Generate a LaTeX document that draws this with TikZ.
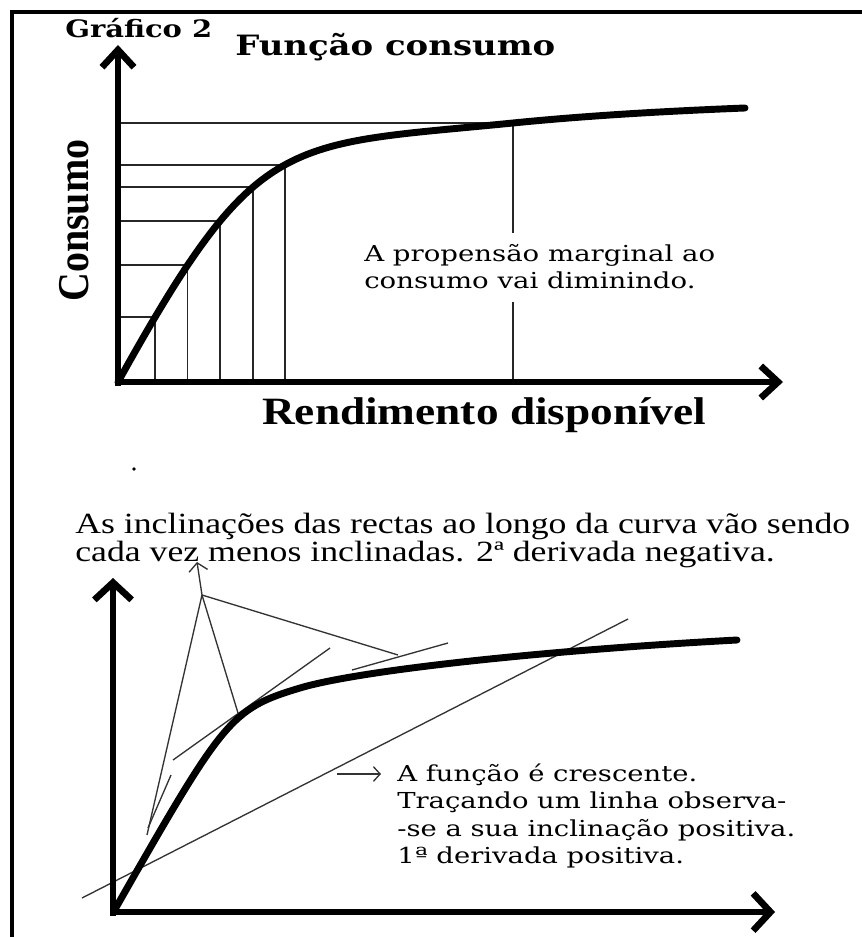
\documentclass[tikz,border=0pt]{standalone}
\usepackage{fontspec}
\usepackage{graphicx}
\setmainfont{Liberation Serif}
\newfontfamily\bookfont{DejaVu Serif}
\usetikzlibrary{arrows.meta}
\newsavebox\measbox
\newdimen\measdim
\newcommand\setxscale[3]{\sbox\measbox{#3}\measdim=\wd\measbox\pgfmathsetmacro#1{#2*0.75/\measdim}}
\newcommand\grafont{\bookfont\bfseries\fontsize{18}{18}\selectfont}
\newcommand\funcfont{\bookfont\bfseries\fontsize{21}{21}\selectfont}
\newcommand\consfont{\bfseries\fontsize{33}{33}\selectfont}
\newcommand\rendfont{\bfseries\fontsize{29}{29}\selectfont}
\newcommand\propfont{\bookfont\fontsize{16.5}{16.5}\selectfont}
\newcommand\inclfont{\fontsize{22}{22}\selectfont}
\newcommand\crescfont{\bookfont\fontsize{16.5}{16.5}\selectfont}
\begin{document}
\setxscale\sG{147}{\grafont Gráfico 2}%
\setxscale\sF{320}{\funcfont Função consumo}%
\setxscale\sC{162}{\consfont Consumo}%
\setxscale\sR{444}{\rendfont Rendimento disponível}%
\setxscale\sP{351}{\propfont A propensão marginal ao}%
\setxscale\sI{775}{\inclfont As inclinações das rectas ao longo da curva vão sendo}%
\setxscale\sK{398}{\crescfont -se a sua inclinação positiva.}%
\begin{tikzpicture}[x=0.75pt,y=-0.75pt,
  frameline/.style={line width=3.5pt},
  axistop/.style={line width=5pt, -{Straight Barb[length=13pt,width=24pt]}},
  axisbot/.style={line width=5pt, -{Straight Barb[length=13pt,width=28pt]}},
  ccurve/.style={line width=5.2pt, line cap=round, line join=round},
  gridline/.style={line width=1.3pt, black!85},
  tline/.style={line width=1pt, black!80},
  txt/.style={inner sep=0pt, anchor=base west}]
\useasboundingbox[fill=white] (0,0) rectangle (862,937);
% frame
\draw[frameline] (10,12) -- (862,12);
\draw[frameline] (12,10) -- (12,937);
% ---------- top graph ----------
\coordinate (O1) at (118,382);
\coordinate (Y1) at (118,45);
\coordinate (X1) at (783,382);
\coordinate (E1) at (745,108);
\path (O1) .. controls (258,130) and (283,146) .. (513,123)
  coordinate[pos=0.095] (p1) coordinate[pos=0.19] (p2) coordinate[pos=0.295] (p3)
  coordinate[pos=0.405] (p4) coordinate[pos=0.51] (p5) coordinate[pos=1] (p6);
\foreach \p in {p1,p2,p3,p4,p5}{
  \draw[gridline] (O1 |- \p) -- (\p);
  \draw[gridline] (\p) -- (\p |- O1);
}
\draw[gridline] (O1 |- p6) -- (p6);
\coordinate (g1) at (513,233);
\coordinate (g2) at (513,302);
\draw[gridline] (p6) -- (g1);
\draw[gridline] (g2) -- (p6 |- O1);
\draw[ccurve] (O1) .. controls (258,130) and (283,146) .. (p6)
  .. controls (590,115.3) and (670,111) .. (E1);
\draw[axistop] (118,386) -- (Y1);
\draw[axistop] (115,382) -- (X1);
% texts top
\node[txt] (graf) at (65,38) {\scalebox{\sG}[1]{\grafont Gráfico 2}};
\node[txt] (func) at (235,56) {\scalebox{\sF}[1]{\funcfont Função consumo}};
\node[txt, rotate=90] (cons) at (88,302) {\scalebox{\sC}[1]{\consfont Consumo}};
\node[txt] (rend) at (262,424) {\scalebox{\sR}[1]{\rendfont Rendimento disponível}};
\node[txt] (prop1) at (364,262) {\scalebox{\sP}[1]{\propfont A propensão marginal ao}};
\node[txt] (prop2) at (364,289) {\scalebox{\sP}[1]{\propfont consumo vai diminindo.}};
\fill (134,469) circle (1.4pt);
% ---------- bottom text ----------
\node[txt] (incl1) at (75,533) {\scalebox{\sI}[1]{\inclfont As inclinações das rectas ao longo da curva vão sendo}};
\node[txt] (incl2) at (75,561) {\scalebox{\sI}[1]{\inclfont cada vez menos inclinadas. 2ª derivada negativa.}};
% ---------- bottom graph ----------
\coordinate (O2) at (113,912);
\coordinate (Y2) at (113,578);
\coordinate (X2) at (775,912);
\coordinate (B0) at (114,911);
\coordinate (B1) at (300,688);
\coordinate (B2) at (737,640);
% thin lines
\coordinate (L1a) at (82,898);
\coordinate (L1b) at (628,619);
\draw[tline] (L1a) -- (L1b);
\coordinate (T2a) at (173,760);
\coordinate (T2b) at (330,648);
\draw[tline] (T2a) -- (T2b);
\coordinate (T3a) at (352,670);
\coordinate (T3b) at (448,643);
\draw[tline] (T3a) -- (T3b);
\coordinate (T1a) at (148,828);
\coordinate (T1b) at (171,775);
\draw[tline] (T1a) -- (T1b);
\coordinate (apex) at (202,595);
\coordinate (up) at (197,562);
\coordinate (c3) at (398,655);
\coordinate (c2) at (238,713);
\coordinate (c1) at (147,835);
\draw[tline] (apex) -- (c3);
\draw[tline] (apex) -- (c2);
\draw[tline] (apex) -- (c1);
\draw[tline, -{Straight Barb[length=6pt,width=14pt]}] (apex) -- (up);
\draw[ccurve] (B0) .. controls (224,718.5) and (230,709) .. (B1)
  .. controls (360,670) and (550,650) .. (B2);
\draw[axisbot] (113,916) -- (Y2);
\draw[axisbot] (110,912) -- (X2);
% texts bottom right
\coordinate (arrS) at (337,774);
\coordinate (arrE) at (381,774);
\draw[tline, -{Straight Barb[length=5pt,width=11pt]}] (arrS) -- (arrE);
\node[txt] (cr1) at (397,781) {\scalebox{\sK}[1]{\crescfont A função é crescente.}};
\node[txt] (cr2) at (397,808) {\scalebox{\sK}[1]{\crescfont Traçando um linha observa-}};
\node[txt] (cr3) at (397,836) {\scalebox{\sK}[1]{\crescfont -se a sua inclinação positiva.}};
\node[txt] (cr4) at (397,863) {\scalebox{\sK}[1]{\crescfont 1ª derivada positiva.}};
\end{tikzpicture}
\end{document}
